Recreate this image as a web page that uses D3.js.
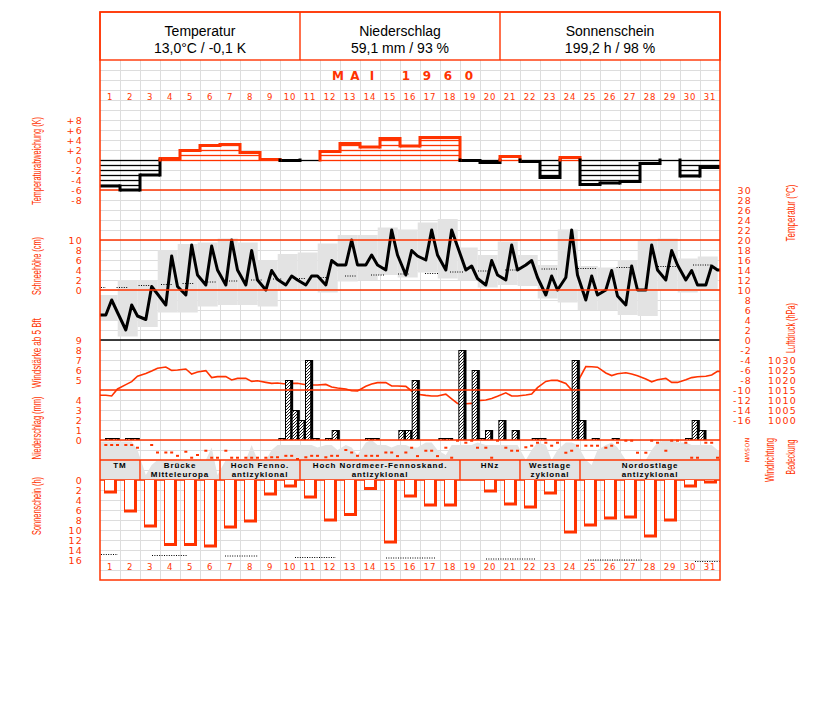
<!DOCTYPE html>
<html><head><meta charset="utf-8">
<script src="https://cdn.jsdelivr.net/npm/d3@7"></script>
<style>body{margin:0;background:#fff}</style>
</head><body>
<svg id="c" width="827" height="702"></svg>
<script>
// ---------------- DATA ----------------
const monthLetters = ["M","A","I"];
const yearLetters = ["1","9","6","0"];
const headerTitles = ["Temperatur","Niederschlag","Sonnenschein"];
const headerValues = ["13,0°C / -0,1 K","59,1 mm / 93 %","199,2 h / 98 %"];
const days = d3.range(1, 32);

const tempDev = [-5.2,-6,-3,0.3,1.9,2.9,3.1,1.5,0.1,-0.1,0,1.7,3.3,2.6,4.3,2.8,4.5,4.5,-0.1,-0.5,0.7,-0.3,-3.5,0.5,-4.9,-4.6,-4.3,-0.7,0,-3.2,-1.5];

const temp07 = [5.0,2.0,4.1,7.0,9.0,11.0,11.0,11.0,10.0,11.0,11.0,11.0,15.0,15.0,14.0,13.0,16.0,14.0,14.0,11.0,12.0,15.0,9.0,12.5,8.0,10.0,7.0,10.0,12.0,12.0,11.0];
const temp14 = [8.0,7.0,10.7,16.8,19.0,18.8,20.0,17.9,13.9,12.8,12.8,15.9,20.0,17.0,22.0,17.9,22.0,22.0,14.8,15.9,19.0,15.9,12.8,22.0,12.8,13.9,14.8,19.0,17.9,13.9,14.8];
const temp21 = [5.5,4.8,9.2,10.7,13.0,14.0,14.0,12.0,12.1,12.0,12.8,15.0,15.0,15.0,17.0,16.8,17.0,18.7,12.3,13.0,14.0,12.5,10.0,13.0,9.0,8.8,10.0,14.0,15.0,11.0,14.0];
const tempMax = [9,12,12,18,19.2,19.5,20.3,19.5,16,17.2,17.5,19.3,21,21,22.5,22.1,23.5,24.2,18.5,17,19.7,17,15,22.1,14.8,14.5,16,19.8,20.3,16.3,16.7];
const tempMin = [4,0.7,2.6,5.5,5.5,6.7,7,7,6.7,10,10,9.5,11.7,12,13,12.5,13.5,12.3,12,10.5,11,10.8,8.3,7.5,6,6,5,4.8,10,9.5,10];
const tempNormStart = [0.05,0.83,1.93,3.05,4.13,5.25,6.33,7.55,8.65,9.83,10.9,12.25,13.55,14.9,16.25,17.5,18.9,20.25,22.08,23.9,25.83,27.9,29.65];
const tempNormEnd   = [0.3,1.38,2.5,3.6,4.7,5.83,6.9,8.08,9.13,10.25,11.5,12.83,14.2,15.5,16.9,18.17,19.5,20.83,22.9,24.83,26.67,28.83,30.58];
const tempNormVal   = [10.5,10.5,10.9,11.1,11.3,11.6,11.8,12.0,12.2,12.3,12.5,12.8,13.0,13.2,13.3,13.6,13.8,14.0,14.2,14.3,14.5,14.7,15.0];

const press07 = [1012.4,1017.7,1023.2,1026.5,1025.5,1024.7,1021.7,1020.8,1018.8,1018.0,1017.6,1017.8,1015.5,1016.9,1018.7,1016.8,1012.3,1012.9,1008.1,1010.0,1013.6,1012.5,1019.3,1018.3,1026.7,1023.5,1023.6,1020.5,1020.8,1020.1,1021.9];
const press14 = [1012.0,1019.2,1024.5,1024.8,1023.0,1021.2,1020.0,1019.3,1018.3,1018.3,1017.5,1016.5,1014.6,1018.0,1017.0,1014.5,1012.0,1010.6,1008.3,1010.8,1012.0,1013.0,1019.9,1015.0,1026.6,1022.2,1023.0,1019.1,1018.8,1021.2,1022.5];
const press21 = [1015.5,1021.9,1025.9,1025.0,1024.0,1021.7,1020.8,1019.6,1018.5,1018.4,1017.5,1016.0,1014.5,1018.7,1017.0,1012.9,1012.0,1008.3,1009.7,1011.9,1012.0,1016.2,1019.8,1019.0,1026.4,1023.1,1022.1,1020.1,1018.8,1021.6,1024.3];

// precipitation per third of day (mm)
const precipA = [0.2,0.2,0,0,0,0,0,0,0,6,8,0.2,0,0.2,0,1,0,0.2,0,1,0,0,0,0,0,0,0,0,0,0.2,0];
const precipB = [0.2,0.2,0,0,0,0,0,0,0,3,0.2,1,0,0.2,0,6,0,0,7,0,1,0.2,0,8,0.2,0.2,0,0,0,2,0];
const precipC = [0,0,0,0,0,0,0,0,0.2,2,0,0,0,0,1,0,0.2,9,0.2,2,0,0.2,0,2,0,0,0,0,0,1,0];

// wind direction (degrees) at 7, 14, 21 h; null = calm
const wind07 = [90,90,null,225,211,193,193,319,319,285,311,311,180,285,225,225,193,139,49,139,139,131,49,229,103,139,13,229,193,49,49];
const wind14 = [90,90,90,225,319,319,319,319,311,285,285,285,225,285,225,139,193,319,13,319,193,103,103,193,103,103,13,13,13,319,49];
const wind21 = [90,139,225,285,270,319,319,319,311,360,285,285,285,285,290,290,290,13,139,13,193,49,49,103,103,49,229,49,13,319,319];

// cloud cover (octas) at 7, 14, 21 h
const cloud07 = [7.7,7.7,1,4,4,4,4,4,4,7,7,7,7,7.5,7,7,7.5,5,7,7,7,4,7,7.5,4,7,4,4,8,7.5,7];
const cloud14 = [7.7,7.7,3,4,4,6.5,4,7,6,7,7,7,6.5,8,6.5,6.5,7.5,7,7,7,7,6,4,7.5,3,7.5,4,6,8,7,7];
const cloud21 = [7.7,6,4,4,4,1,4,4,7,7,6.5,6,5,7,7,6.5,6,7,7.5,7,7,7.5,6,7,6,6.5,4,7.5,7.5,7,6];

const sunshine = [2.7,6.5,9.5,13.2,13.2,13.5,9.7,8.5,3.1,1.5,3.7,8.3,7.2,2.0,12.7,3.5,5.3,5.3,0,2.5,5.1,5.7,2.9,10.7,9.3,7.9,7.7,11.5,8.3,1.5,0.7];
const sunPossStart = [0.05,2.6,6.25,9.75,14.3,19.3,24.4,29.75];
const sunPossEnd   = [0.9,4.4,7.9,11.8,16.8,21.8,27.1,31];
const sunPossVal   = [14.8,15.0,15.1,15.4,15.5,15.7,15.9,16.2];

const wtStart = [0,2,6,10,18,21,24];
const wtEnd   = [2,6,10,18,21,24,31];
const wtLine1 = ["TM","Brücke","Hoch Fenno.","Hoch Nordmeer-Fennoskand.","HNz","Westlage","Nordostlage"];
const wtLine2 = ["","Mitteleuropa","antizyklonal","antizyklonal","","zyklonal","antizyklonal"];

const devTicks = [8,6,4,2,0,-2,-4,-6,-8];
const snowTicks = [10,8,6,4,2,0];
const windTicks = [9,8,7,6,5];
const precipTicks = [4,3,2,1,0];
const sunTicks = [0,2,4,6,8,10,12,14,16];
const tempTicks = [30,28,26,24,22,20,18,16,14,12,10,8,6,4,2,0,-2,-4,-6,-8,-10,-12,-14,-16];
const pressTicks = [1030,1025,1020,1015,1010,1005,1000];
const dirTicks = [0,90,180,270,360];
const dirLabels = ["N","O","S","W","N"];

// ---------------- DRAWING ----------------
const RED = "#ff3300", GRID = "#dddddd", GREY = "#e3e3e3";
const svg = d3.select("#c");
svg.append("rect").attr("width",827).attr("height",702).attr("fill","#fff");

const x = d3.scaleLinear().domain([0,31]).range([100,720]);
const yDev = d3.scaleLinear().domain([-8,8]).range([200,120]);
const yTemp = d3.scaleLinear().domain([-16,30]).range([420,190]);
const ySnow = d3.scaleLinear().domain([0,10]).range([290,240]);
const yWind = d3.scaleLinear().domain([5,9]).range([380,340]);
const yPrec = d3.scaleLinear().domain([0,4]).range([440,400]);
const yPress = d3.scaleLinear().domain([1000,1030]).range([420,360]);
const yDir = d3.scaleLinear().domain([0,360]).range([440,460]);
const yCloud = d3.scaleLinear().domain([0,8]).range([480,440]);
const ySun = d3.scaleLinear().domain([0,16]).range([480,560]);

const defs = svg.append("defs");
const pat = defs.append("pattern").attr("id","hatch").attr("width",3).attr("height",3).attr("patternUnits","userSpaceOnUse");
pat.append("rect").attr("width",3).attr("height",3).attr("fill","#fff");
pat.append("path").attr("d","M-1,1 L1,-1 M0,3 L3,0 M2,4 L4,2").attr("stroke","#000").attr("stroke-width",0.9);
defs.append("clipPath").attr("id","plot").append("rect").attr("x",100).attr("y",60).attr("width",620).attr("height",520);

// grid
const grid = svg.append("g").attr("stroke",GRID).attr("stroke-width",1);
d3.range(70, 580, 10).forEach(y => grid.append("line").attr("x1",100).attr("x2",720).attr("y1",y+0.5).attr("y2",y+0.5));
d3.range(1,31).forEach(d => grid.append("line").attr("x1",x(d)+0.5).attr("x2",x(d)+0.5).attr("y1",60).attr("y2",580));

const plot = svg.append("g").attr("clip-path","url(#plot)");

// temperature max/min band
plot.append("g").selectAll("rect").data(days).join("rect")
  .attr("x", (d,i)=>x(i)-2.3).attr("width",20)
  .attr("y",(d,i)=>yTemp(tempMax[i])).attr("height",(d,i)=>yTemp(tempMin[i])-yTemp(tempMax[i]))
  .attr("fill",GREY);

// cloud cover area
const cloudPts = [[0,cloud07[0]]];
days.forEach((d,i)=>{cloudPts.push([i+7/24,cloud07[i]],[i+14/24,cloud14[i]],[i+21/24,cloud21[i]]);});
cloudPts.push([31,cloud21[30]]);
plot.append("path").datum(cloudPts)
  .attr("d", d3.area().x(p=>x(p[0])).y0(yCloud(0)).y1(p=>yCloud(p[1])))
  .attr("fill",GREY);

// reference lines
const refs = svg.append("g");
[yTemp(30), yTemp(20), yTemp(10), yPress(1015), yPrec(0), yCloud(4), yCloud(0)].forEach(y=>
  refs.append("line").attr("x1",100).attr("x2",720).attr("y1",y).attr("y2",y).attr("stroke",RED).attr("stroke-width",1.4));
refs.append("line").attr("x1",100).attr("x2",720).attr("y1",yTemp(0)).attr("y2",yTemp(0)).attr("stroke","#000").attr("stroke-width",1.5);

// temperature normals (dotted)
plot.append("g").selectAll("line").data(tempNormVal).join("line")
  .attr("x1",(v,i)=>x(tempNormStart[i])).attr("x2",(v,i)=>x(tempNormEnd[i]))
  .attr("y1",v=>yTemp(v)).attr("y2",v=>yTemp(v))
  .attr("stroke","#000").attr("stroke-width",1).attr("stroke-dasharray","1,1.4");

// temperature line
const tPts = [[0,temp07[0]]];
days.forEach((d,i)=>{tPts.push([i+7/24,temp07[i]],[i+14/24,temp14[i]],[i+21/24,temp21[i]]);});
tPts.push([31,temp21[30]]);
plot.append("path").datum(tPts).attr("d",d3.line().x(p=>x(p[0])).y(p=>yTemp(p[1])))
  .attr("fill","none").attr("stroke","#000").attr("stroke-width",3).attr("stroke-linejoin","round");

// temperature deviation step bars
const gDev = svg.append("g");
tempDev.forEach((v,i)=>{
  const col = v>0 ? RED : "#000";
  let levels = v<0 ? d3.range(0, v, -1) : d3.range(0, v, 1);
  if (v===0) levels=[0];
  levels.forEach(k=> gDev.append("line").attr("x1",x(i)).attr("x2",x(i+1)).attr("y1",yDev(k)+0.5).attr("y2",yDev(k)+0.5)
      .attr("stroke",col).attr("stroke-width",1.3));
  if (v!==0) gDev.append("line").attr("x1",x(i)).attr("x2",x(i+1)).attr("y1",yDev(v)).attr("y2",yDev(v))
      .attr("stroke",col).attr("stroke-width",3);
});
for (let i=0;i<30;i++){
  const a=tempDev[i], b=tempDev[i+1];
  const segs = (a*b<0) ? [[a,0],[0,b]] : [[a,b]];
  segs.forEach(s=>{
    const col = (s[0]+s[1])>0 ? RED : "#000";
    gDev.append("line").attr("x1",x(i+1)).attr("x2",x(i+1)).attr("y1",yDev(s[0])).attr("y2",yDev(s[1]))
      .attr("stroke",col).attr("stroke-width",3).attr("stroke-linecap","square");
  });
}

// pressure line
const pPts = [[0,press07[0]]];
days.forEach((d,i)=>{pPts.push([i+7/24,press07[i]],[i+14/24,press14[i]],[i+21/24,press21[i]]);});
pPts.push([31,press21[30]]);
plot.append("path").datum(pPts).attr("d",d3.line().x(p=>x(p[0])).y(p=>yPress(p[1])))
  .attr("fill","none").attr("stroke",RED).attr("stroke-width",1.6);

// precipitation bars
const gPr = plot.append("g");
const thirds = [precipA, precipB, precipC];
days.forEach((d,i)=>{
  thirds.forEach((arr,k)=>{
    const v = arr[i]; if(!v) return;
    const x0 = x(i+0.25+k/3), x1 = x(i+0.25+(k+1)/3), y0 = yPrec(v);
    gPr.append("rect").attr("x",x0).attr("y",y0).attr("width",x1-x0+1.5).attr("height",yPrec(0)-y0).attr("fill","#000");
    gPr.append("rect").attr("x",x0+1).attr("y",y0+1).attr("width",Math.max(0,x1-x0-2.5)).attr("height",Math.max(0,yPrec(0)-y0-1)).attr("fill","url(#hatch)");
  });
});

// wind direction dots
const gW = plot.append("g").attr("fill",RED);
[[wind07,7],[wind14,14],[wind21,21]].forEach(([arr,h])=>{
  arr.forEach((v,i)=>{ if(v===null) return;
    gW.append("rect").attr("x",x(i+h/24)-1.5).attr("y",Math.min(yDir(v),459)-1).attr("width",3).attr("height",2);
  });
});

// weather types band
const gWT = svg.append("g");
wtStart.forEach((s,i)=>{
  if(i>0) gWT.append("line").attr("x1",x(s)).attr("x2",x(s)).attr("y1",yCloud(4)).attr("y2",yCloud(0)).attr("stroke",RED).attr("stroke-width",1.4);
  const cx = x((s+wtEnd[i])/2);
  const t = gWT.append("text").attr("x",cx).attr("text-anchor","middle")
    .attr("font-family","Liberation Sans, Arial, sans-serif").attr("font-size",8).attr("font-weight","bold").attr("letter-spacing",0.9).attr("fill","#000");
  t.append("tspan").attr("x",cx).attr("y",468).text(wtLine1[i]);
  if (wtLine2[i]) t.append("tspan").attr("x",cx).attr("y",476.5).text(wtLine2[i]);
});

// sunshine bars
const gS = svg.append("g");
sunshine.forEach((v,i)=>{
  if(!v) return;
  const x0 = x(i)+4, w=13, h = ySun(v)-ySun(0);
  gS.append("rect").attr("x",x0).attr("y",ySun(0)).attr("width",w).attr("height",h).attr("fill",RED);
  gS.append("rect").attr("x",x0+1).attr("y",ySun(0)).attr("width",w-4).attr("height",Math.max(0,h-3)).attr("fill","#fff");
});
// possible sunshine (dotted)
svg.append("g").selectAll("line").data(sunPossVal).join("line")
  .attr("x1",(v,i)=>x(sunPossStart[i])).attr("x2",(v,i)=>x(sunPossEnd[i]))
  .attr("y1",v=>ySun(v)+0.5).attr("y2",v=>ySun(v)+0.5)
  .attr("stroke","#000").attr("stroke-width",1).attr("stroke-dasharray","1,1.4");

// header
const hdr = svg.append("g");
hdr.append("rect").attr("x",100).attr("y",12).attr("width",620).attr("height",48).attr("fill","none").attr("stroke",RED).attr("stroke-width",1.4);
[10,20].forEach(d=>hdr.append("line").attr("x1",x(d)).attr("x2",x(d)).attr("y1",12).attr("y2",60).attr("stroke",RED).attr("stroke-width",1.4));
const hdrCenters = [x(5), x(15), x(25.5)];
headerTitles.forEach((t,i)=>{
  hdr.append("text").attr("x",hdrCenters[i]).attr("y",36).attr("text-anchor","middle").attr("font-family","Liberation Sans, Arial, sans-serif").attr("font-size",14).attr("fill","#000").text(t);
  hdr.append("text").attr("x",hdrCenters[i]).attr("y",53).attr("text-anchor","middle").attr("font-family","Liberation Sans, Arial, sans-serif").attr("font-size",14).attr("fill","#000").text(headerValues[i]);
});

// frame
svg.append("rect").attr("x",100).attr("y",12).attr("width",620).attr("height",568).attr("fill","none").attr("stroke",RED).attr("stroke-width",1.5);

// month title
const tf = "DejaVu Sans, Verdana, sans-serif";
monthLetters.forEach((c,i)=> svg.append("text").attr("x",338+i*17).attr("y",80).attr("text-anchor","middle").attr("font-family",tf).attr("font-size",12).attr("font-weight","bold").attr("fill",RED).text(c));
yearLetters.forEach((c,i)=> svg.append("text").attr("x",406+i*21).attr("y",80).attr("text-anchor","middle").attr("font-family",tf).attr("font-size",12).attr("font-weight","bold").attr("fill",RED).text(c));

// day labels
[99.5, 569.5].forEach(yy=>{
  svg.append("g").selectAll("text").data(days).join("text")
    .attr("x",(d,i)=>x(i+0.5)).attr("y",yy).attr("text-anchor","middle")
    .attr("font-family",tf).attr("font-size",8.5).attr("letter-spacing",0.8).attr("fill",RED).text(d=>d);
});

// axes (labels only)
function axisLabels(gx, scale, ticks, fmt){
  const g = svg.append("g").attr("transform",`translate(${gx},0)`)
    .call(d3.axisLeft(scale).tickValues(ticks).tickSize(0).tickPadding(0).tickFormat(fmt));
  g.select(".domain").remove();
  g.selectAll("text").attr("font-family",tf).attr("font-size",9.5).attr("letter-spacing",1.2).attr("fill",RED).attr("dy","0.36em");
  return g;
}
axisLabels(83, yDev, devTicks, v=> v>0 ? "+"+v : (v<0 ? "-"+(-v) : "0"));
axisLabels(83, ySnow, snowTicks, d3.format("d"));
axisLabels(83, yWind, windTicks, d3.format("d"));
axisLabels(83, yPrec, precipTicks, d3.format("d"));
axisLabels(83, ySun, sunTicks, d3.format("d"));
axisLabels(752, yTemp, tempTicks, v=> v<0 ? "-"+(-v) : String(v));
axisLabels(797, yPress, pressTicks, d3.format("d"));

// direction letters
dirTicks.forEach((v,i)=> svg.append("text").attr("transform",`translate(747,${yDir(v)}) rotate(90)`)
  .attr("text-anchor","middle").attr("dy","0.35em").attr("font-family",tf).attr("font-size",6).attr("fill",RED).text(dirLabels[i]));

// rotated titles
function vlabel(cx, cy, txt, len){
  svg.append("text").attr("transform",`translate(${cx},${cy}) rotate(-90)`).attr("text-anchor","middle").attr("dy","0.35em")
    .attr("font-family","Liberation Sans Narrow, Liberation Sans, Arial, sans-serif").attr("font-size",12).attr("fill",RED)
    .attr("textLength",len).attr("lengthAdjust","spacingAndGlyphs").text(txt);
}
vlabel(37, 161, "Temperaturabweichung (K)", 88);
vlabel(37, 266, "Schneehöhe (cm)", 58);
vlabel(37, 353, "Windstärke ab 5 Bft", 70);
vlabel(37, 428, "Niederschlag (mm)", 63);
vlabel(37, 506, "Sonnenschein (h)", 58);
vlabel(791, 213, "Temperatur (°C)", 57);
vlabel(791, 328, "Luftdruck (hPa)", 50);
vlabel(770, 460, "Windrichtung", 44);
vlabel(791, 457, "Bedeckung", 35);
</script>
</body></html>
